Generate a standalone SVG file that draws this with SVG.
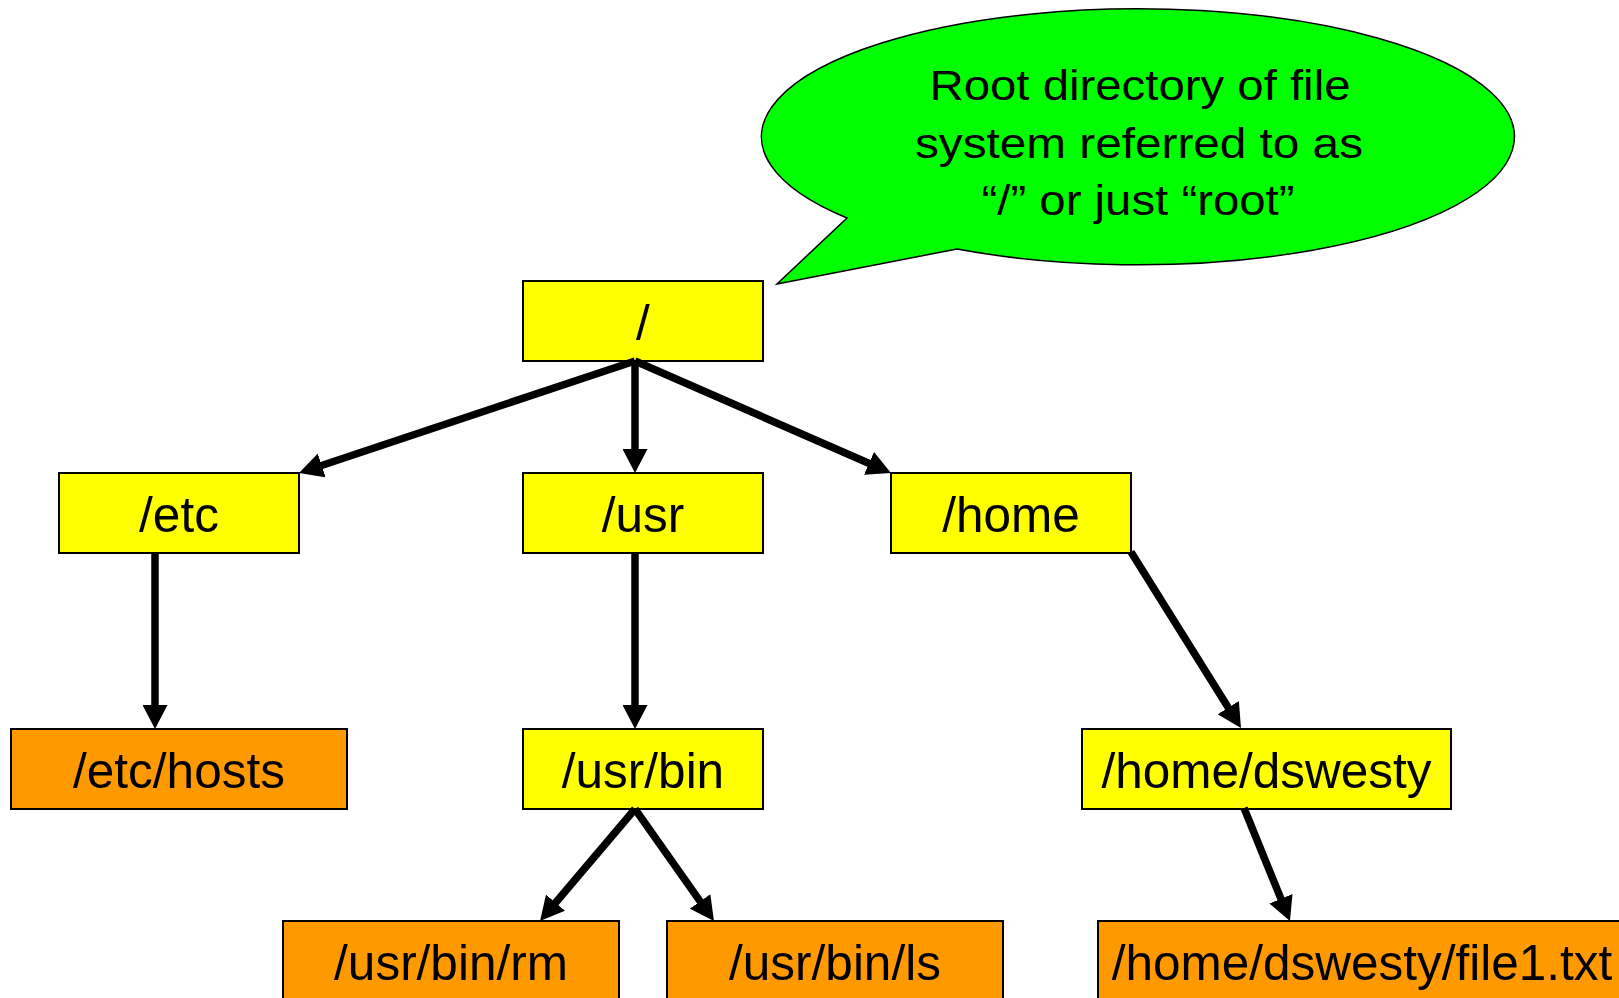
<svg xmlns="http://www.w3.org/2000/svg" width="1619" height="998" viewBox="0 0 1619 998">
  <style>
    .dir { fill: #FFFF00; stroke: #000; stroke-width: 2; }
    .file { fill: #FF9900; stroke: #000; stroke-width: 2; }
    .lbl { font-family: "Liberation Sans", Arial, sans-serif; font-size: 49.5px; fill: #000; text-anchor: middle; }
    .note { font-family: "Liberation Sans", Arial, sans-serif; font-size: 43px; fill: #000; text-anchor: middle; }
    .conn { stroke: #000; stroke-width: 7.5; fill: none; marker-end: url(#arrow); }
  </style>
  <defs>
    <marker id="arrow" markerUnits="userSpaceOnUse" viewBox="0 0 24 25" markerWidth="24" markerHeight="25" refX="1" refY="12.5" orient="auto">
      <path d="M0,0 L24,12.5 L0,25 Z" fill="#000"/>
    </marker>
  </defs>
  <rect width="1619" height="998" fill="#fff"/>

  <g id="callout">
    <path d="M957,249 L777,284 L847,218 A376.5 128 0 1 1 957,249 Z" fill="#00FF00" stroke="#000" stroke-width="1.5"/>
    <text class="note" x="1140" y="100" textLength="421" lengthAdjust="spacingAndGlyphs">Root directory of file</text>
    <text class="note" x="1139" y="158" textLength="448" lengthAdjust="spacingAndGlyphs">system referred to as</text>
    <text class="note" x="1138" y="215" textLength="313" lengthAdjust="spacingAndGlyphs">“/” or just “root”</text>
  </g>

  <g id="node-root">
    <rect class="dir" x="523" y="281" width="240" height="80"/>
    <text class="lbl" x="643" y="340">/</text>
  </g>
  <g id="node-etc">
    <rect class="dir" x="59" y="473" width="240" height="80"/>
    <text class="lbl" x="179" y="532">/etc</text>
  </g>
  <g id="node-usr">
    <rect class="dir" x="523" y="473" width="240" height="80"/>
    <text class="lbl" x="643" y="532">/usr</text>
  </g>
  <g id="node-home">
    <rect class="dir" x="891" y="473" width="240" height="80"/>
    <text class="lbl" x="1011" y="532">/home</text>
  </g>
  <g id="node-etc-hosts">
    <rect class="file" x="11" y="729" width="336" height="80"/>
    <text class="lbl" x="179" y="788">/etc/hosts</text>
  </g>
  <g id="node-usr-bin">
    <rect class="dir" x="523" y="729" width="240" height="80"/>
    <text class="lbl" x="643" y="788">/usr/bin</text>
  </g>
  <g id="node-home-dswesty">
    <rect class="dir" x="1082" y="729" width="369" height="80"/>
    <text class="lbl" x="1266.5" y="788">/home/dswesty</text>
  </g>
  <g id="node-usr-bin-rm">
    <rect class="file" x="283" y="921" width="336" height="80"/>
    <text class="lbl" x="451" y="980">/usr/bin/rm</text>
  </g>
  <g id="node-usr-bin-ls">
    <rect class="file" x="667" y="921" width="336" height="80"/>
    <text class="lbl" x="835" y="980">/usr/bin/ls</text>
  </g>
  <g id="node-file1">
    <rect class="file" x="1098" y="921" width="540" height="80"/>
    <text class="lbl" x="1362" y="980">/home/dswesty/file1.txt</text>
  </g>

  <g id="connectors">
    <line class="conn" x1="635" y1="361" x2="320.8" y2="465.7"/>
    <line class="conn" x1="635" y1="361" x2="635" y2="450"/>
    <line class="conn" x1="635" y1="361" x2="869.9" y2="463.8"/>
    <line class="conn" x1="155" y1="553" x2="155" y2="706"/>
    <line class="conn" x1="635" y1="553" x2="635" y2="706"/>
    <line class="conn" x1="1131" y1="552" x2="1228.8" y2="708.5"/>
    <line class="conn" x1="635" y1="809" x2="554.9" y2="903.5"/>
    <line class="conn" x1="635" y1="809" x2="700.7" y2="902.2"/>
    <line class="conn" x1="1244" y1="808" x2="1281.3" y2="899.7"/>
  </g>
</svg>
